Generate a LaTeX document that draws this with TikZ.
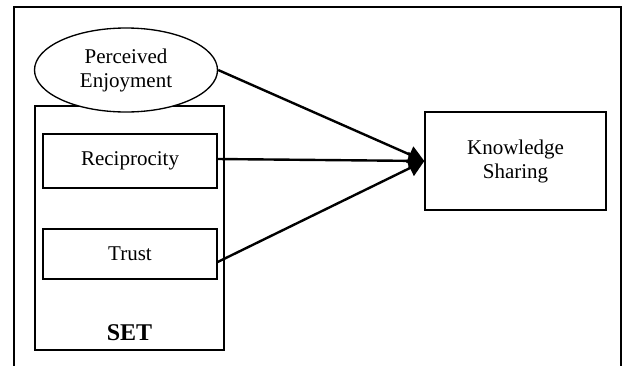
\documentclass[tikz,border=0pt]{standalone}
\usepackage{fontspec}
\setmainfont{Liberation Serif}
\usetikzlibrary{shapes.geometric,arrows.meta}
\tikzset{
  box/.style={draw=black, line width=1pt, fill=white, inner sep=0pt, align=center,
    font=\fontsize{15.75}{18}\selectfont},
  oval/.style={ellipse, draw=black, line width=1pt, fill=white, inner sep=0pt, align=center,
    font=\fontsize{15.75}{18}\selectfont, minimum width=137.25pt, minimum height=63pt},
  conn/.style={line width=1.8pt, -{Triangle[length=12pt,width=13pt]}},
  frame/.style={draw=black, line width=0.8pt}
}
\begin{document}
\begin{tikzpicture}[x=0.75pt,y=-0.75pt]
\useasboundingbox (0,0) rectangle (624,365);
\coordinate (fbl) at (14,366);
\coordinate (ftl) at (14,7);
\coordinate (ftr) at (621,7);
\coordinate (fbr) at (621,366);
\draw[frame] (fbl) -- (ftl) -- (ftr) -- (fbr);
\node[box, minimum width=141.75pt, minimum height=183pt] (set) at (129.5,228) {};
\node[font=\fontsize{18}{20}\selectfont\bfseries] (setl) at (129.5,333) {SET};
\node[box, minimum width=130.5pt, minimum height=40.5pt] (rec) at (130,161) {Reciprocity};
\node[box, minimum width=130.5pt, minimum height=37.5pt] (tr) at (130,254) {Trust};
\node[oval] (pe) at (126,70) {Perceived\\Enjoyment};
\node[box, minimum width=135.75pt, minimum height=73.5pt] (ks) at (515.5,161) {Knowledge\\Sharing};
\draw[conn] (pe.east) -- (ks.west);
\draw[conn] ([yshift=1.5pt]rec.east) -- (ks.west);
\draw[conn] ([yshift=-6pt]tr.east) -- (ks.west);
\end{tikzpicture}
\end{document}
